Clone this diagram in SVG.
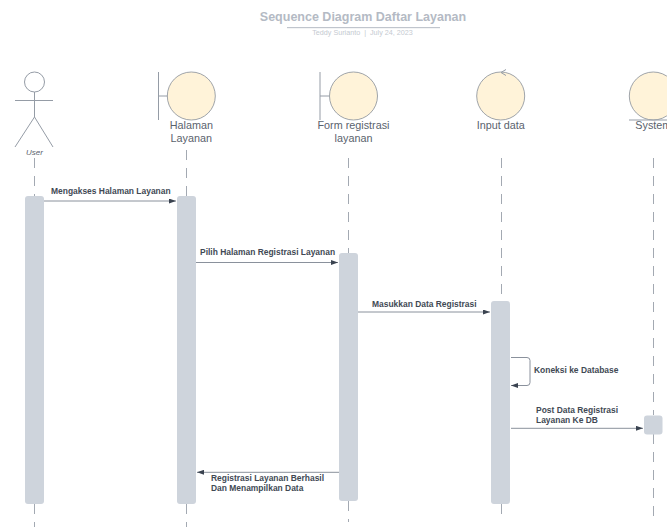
<svg xmlns="http://www.w3.org/2000/svg" width="667" height="527" viewBox="0 0 667 527">
<defs><marker id="arr" markerUnits="userSpaceOnUse" markerWidth="8" markerHeight="5" refX="7" refY="2.500" orient="auto"><path d="M0 0L7 2.500L0 5Z" fill="#3a4350"/></marker></defs>
<style>
text{font-family:"Liberation Sans",Arial,sans-serif}
.life{stroke:#a3a9b2;stroke-width:1;fill:none;stroke-dasharray:10 8}
.bar{fill:#ced4dc}
.ball{fill:#fff3d9;stroke:#878e98;stroke-width:.8}
.stk{stroke:#959ca6;stroke-width:1;fill:none}
.name{font-size:10.800px;fill:#5a626d;text-anchor:middle}
.msg{font-size:8.450px;font-weight:bold;fill:#414954}
.conn{stroke:#8a919c;stroke-width:1;fill:none;marker-end:url(#arr)}
</style>
<g id="title">
<text x="363" y="21" font-size="12.500" font-weight="bold" fill="#b4bac4" text-anchor="middle">Sequence Diagram Daftar Layanan</text>
<rect x="287" y="27" width="153" height="1.200" fill="#c0c5cd"/>
<text x="362.500" y="35" font-size="7.200" fill="#c5cad1" text-anchor="middle" style="white-space:pre">Teddy Surianto  |  July 24, 2023</text>
</g>
<g id="connectors">
<path class="life" d="M34.500 158V196M34.500 504V527"/>
<path class="life" d="M186.500 150V196M186.500 504V527"/>
<path class="life" d="M348.500 158V253M348.500 501V522"/>
<path class="life" d="M501.500 158V301M501.500 504V522"/>
<path class="life" d="M653.500 158V415M653.500 434V522"/>
<path class="conn" d="M44 201H176"/>
<path class="conn" d="M196 262.500H338"/>
<path class="conn" d="M358 312H490"/>
<path class="conn" d="M511 357.500H527Q530 357.500 530 360.500V382.500Q530 385.500 527 385.500H511"/>
<path class="conn" d="M511 428.300H643"/>
<path class="conn" d="M339 472.300H197"/>
</g>
<g id="user">
<circle class="stk" cx="34.500" cy="82" r="10"/>
<path class="stk" d="M34.500 92V117M15 100.500H53M34.500 117L15 147M34.500 117L53 147"/>
<text x="34.500" y="155" font-size="8" font-style="italic" fill="#5a626d" text-anchor="middle">User</text>
<rect class="bar" x="25" y="196" width="19" height="308" rx="3"/>
</g>
<g id="halaman">
<path class="stk" d="M158.500 72V120M158.500 96H168"/>
<circle class="ball" cx="191.300" cy="96" r="24"/>
<text class="name" x="191.300" y="129">Halaman</text>
<text class="name" x="191.300" y="142">Layanan</text>
<rect class="bar" x="177" y="196" width="19" height="308" rx="3"/>
</g>
<g id="form">
<path class="stk" d="M320 72V120M320 96H329"/>
<circle class="ball" cx="353.500" cy="96" r="24"/>
<text class="name" x="353.500" y="129">Form registrasi</text>
<text class="name" x="353.500" y="142">layanan</text>
<rect class="bar" x="339" y="253" width="19" height="248" rx="3"/>
</g>
<g id="input">
<circle class="ball" cx="500.700" cy="96" r="24"/>
<path class="stk" d="M506 69.500L501 72.500L506 75.500"/>
<text class="name" x="500.700" y="129">Input data</text>
<rect class="bar" x="491" y="301" width="19" height="203" rx="3"/>
</g>
<g id="system">
<circle class="ball" cx="653.300" cy="96" r="24"/>
<path class="stk" d="M629 120H667"/>
<text class="name" x="653.300" y="129">System</text>
<rect class="bar" x="644" y="415.500" width="18.500" height="19" rx="3"/>
</g>
<g id="labels">
<text class="msg" x="51" y="194">Mengakses Halaman Layanan</text>
<text class="msg" x="200" y="255">Pilih Halaman Registrasi Layanan</text>
<text class="msg" x="372" y="307">Masukkan Data Registrasi</text>
<text class="msg" x="534" y="373">Koneksi ke Database</text>
<text class="msg" x="536" y="413">Post Data Registrasi</text>
<text class="msg" x="536" y="423">Layanan Ke DB</text>
<text class="msg" x="211" y="481">Registrasi Layanan Berhasil</text>
<text class="msg" x="211" y="491">Dan Menampilkan Data</text>
</g>
</svg>
